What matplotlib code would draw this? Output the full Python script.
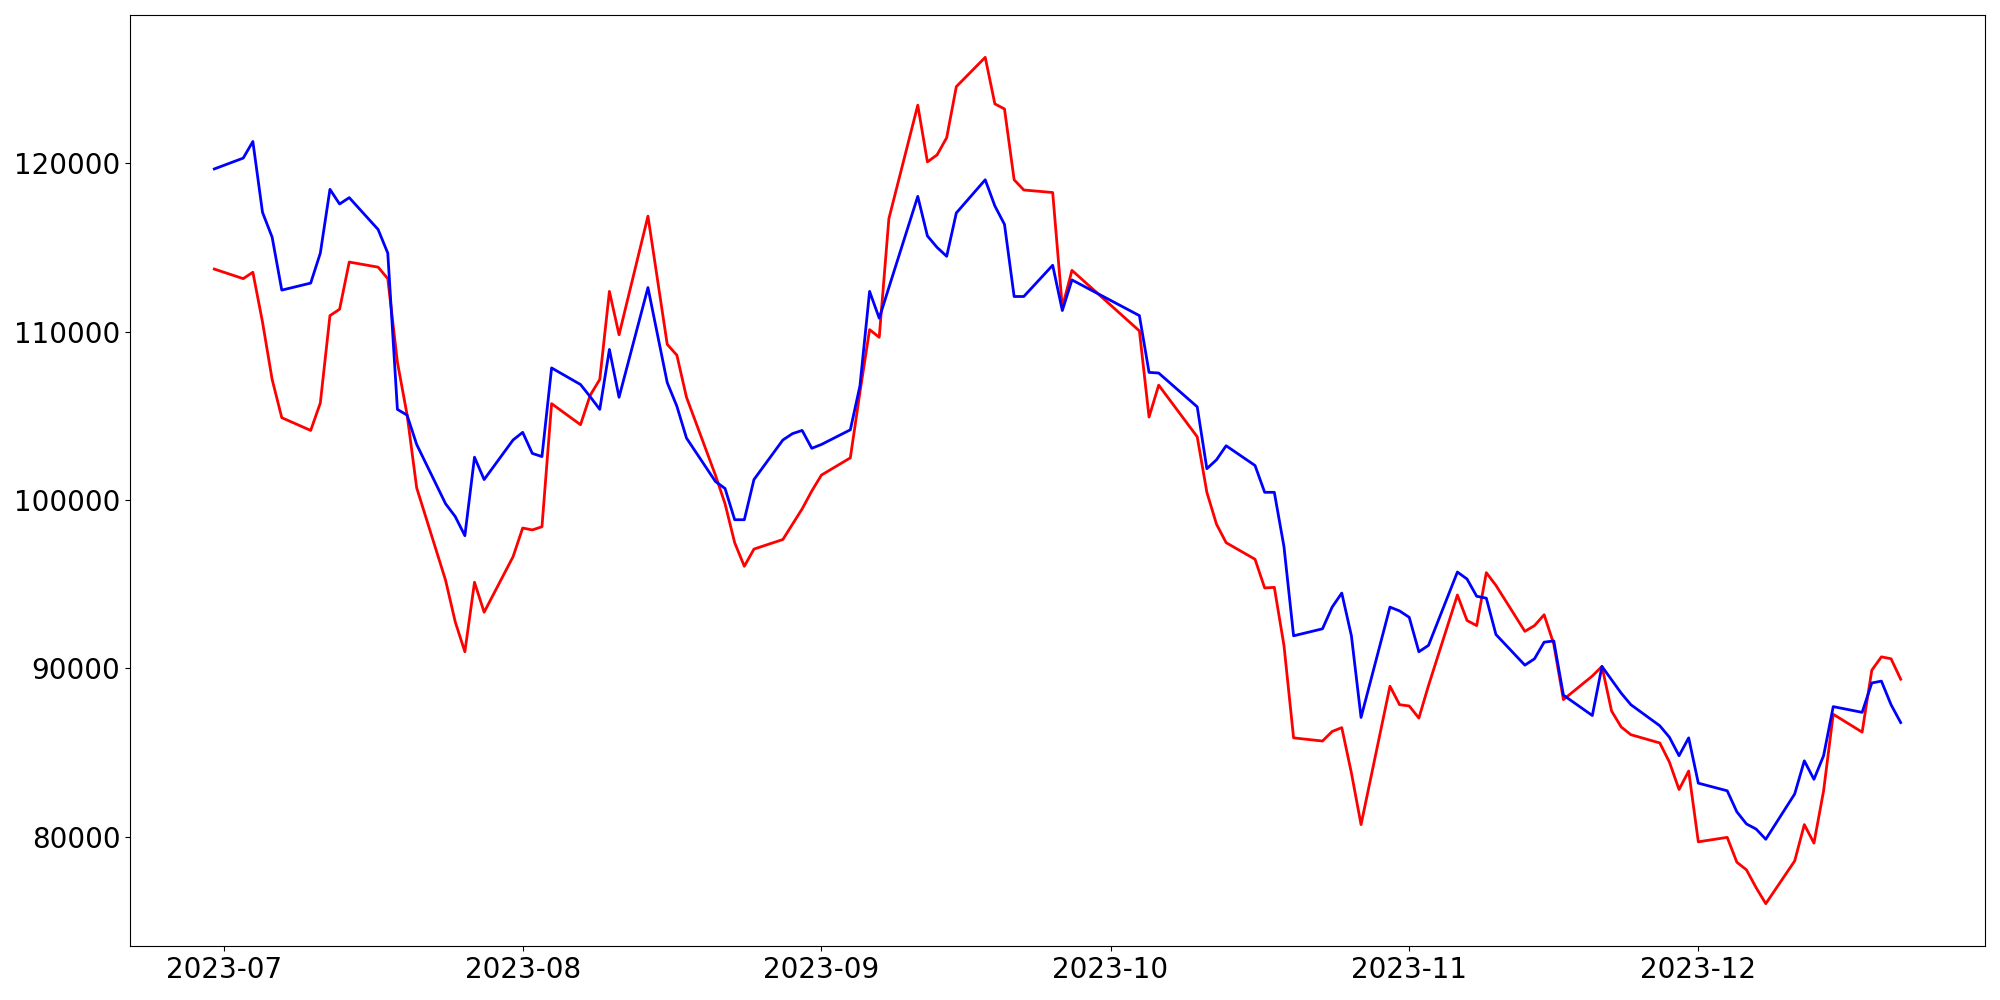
import matplotlib
matplotlib.use("Agg")
import matplotlib.pyplot as plt
import pandas as pd

holidays = ["2023-08-15", "2023-09-28", "2023-09-29", "2023-10-02", "2023-10-03", "2023-10-09"]
dates = [d for d in pd.bdate_range("2023-06-30", "2023-12-22") if d.strftime("%Y-%m-%d") not in holidays]

red_jun_jul = [113712,
               113144, 113523, 110568, 107159, 104886, 104129, 105757, 110947, 111326, 114129,
               113826, 113144, 108182, 105075, 100719, 95227, 92764, 90984, 95113, 93333, 96629]
red_aug = [98333, 98220, 98409, 105719, 104470, 106212, 107159, 112386, 109810, 116856, 109242,
           108598, 106098, 101477, 99773, 97462, 96060, 97083, 97651, 98560, 99469, 100530]
red_sep = [101477, 102500, 106401, 110114, 109659, 116704, 123447, 120076, 120492, 121515,
           124546, 126288, 123523, 123220, 119015, 118409, 118258, 111439, 113636]
red_oct = [110038, 104924, 106818, 103750, 100454, 98560, 97462, 96477, 94773, 94810, 91364,
           85871, 85682, 86250, 86477, 83788, 80720, 88939, 87841]
red_nov = [87765, 87045, 88977, 94356, 92841, 92538, 95682, 94924, 92197, 92538, 93182, 91439,
           88144, 89545, 90114, 87462, 86515, 86060, 85568, 84432, 82803, 83901]
red_dec = [79697, 79962, 78485, 78030, 76970, 76023, 78561, 80720, 79621, 82727, 87273, 86212,
           89886, 90682, 90568, 89356]

blue_jun_jul = [119659,
                120303, 121288, 117083, 115606, 112462, 112879, 114659, 118447, 117576, 117955,
                116061, 114659, 105379, 105038, 103295, 99773, 99015, 97879, 102538, 101211, 103561]
blue_aug = [104015, 102765, 102576, 107841, 106856, 106136, 105379, 108939, 106098, 112613, 106970,
            105568, 103674, 101098, 100682, 98826, 98826, 101211, 103561, 103939, 104129, 103068]
blue_sep = [103295, 104166, 106780, 112386, 110795, 112613, 118030, 115682, 115000, 114470,
            117045, 119015, 117462, 116364, 112083, 112083, 113939, 111250, 113068]
blue_oct = [110947, 107576, 107538, 105530, 101856, 102386, 103220, 102045, 100454, 100454, 97235,
            91932, 92348, 93636, 94470, 91932, 87083, 93636, 93409]
blue_nov = [93030, 90984, 91364, 95720, 95303, 94280, 94167, 92008, 90189, 90568, 91553, 91629,
            88409, 87197, 90114, 89318, 88523, 87841, 86591, 85909, 84811, 85871]
blue_dec = [83181, 82727, 81477, 80757, 80454, 79848, 82538, 84508, 83409, 84811, 87727, 87386,
            89129, 89242, 87841, 86780]

red = red_jun_jul + red_aug + red_sep + red_oct + red_nov + red_dec
blue = blue_jun_jul + blue_aug + blue_sep + blue_oct + blue_nov + blue_dec

fig = plt.figure(figsize=(20, 10), dpi=100)
ax = fig.add_axes([0.065, 0.054, 0.9275, 0.931])
ax.plot(dates, red, color="red", linewidth=2)
ax.plot(dates, blue, color="blue", linewidth=2)
ax.tick_params(axis="both", labelsize=20)
fig.savefig("out.png", dpi=100)
